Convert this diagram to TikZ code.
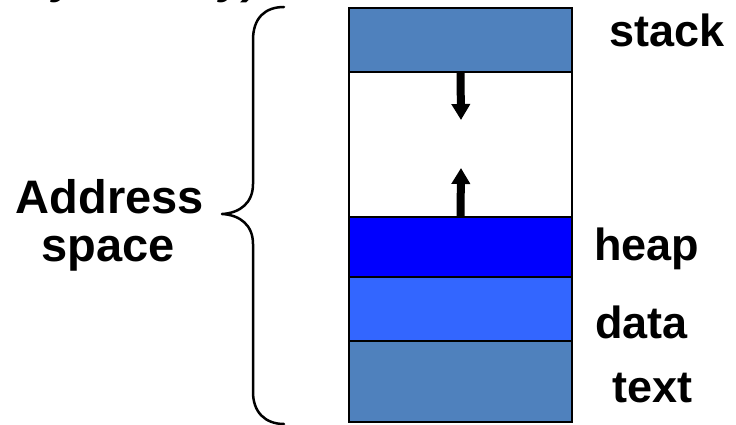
\documentclass[tikz,border=0pt]{standalone}
\usepackage{fontspec}
\setmainfont{Liberation Sans}
\usetikzlibrary{arrows.meta}

\definecolor{segblue}{HTML}{4F81BD}
\definecolor{heapblue}{HTML}{0000FF}
\definecolor{datablue}{HTML}{3366FF}

\begin{document}
\begin{tikzpicture}[x=1pt,y=-1pt,
  seg/.style={draw=black, line width=2.5pt, minimum width=223pt, inner sep=0pt, outer sep=0pt},
  lbl/.style={font=\fontsize{45}{54}\selectfont\bfseries, inner sep=0pt, anchor=base west},
  biglbl/.style={font=\fontsize{47}{56}\selectfont\bfseries, inner sep=0pt, anchor=base},
  headlbl/.style={font=\fontsize{45}{54}\selectfont\bfseries\itshape, inner sep=0pt, anchor=base west},
  growarrow/.style={line width=8pt, -{Triangle[width=18pt,length=16pt]}},
  brace/.style={line width=2.5pt, line cap=round, line join=round}]
  \useasboundingbox (0,0) rectangle (736,425);

  % descenders of the heading line above the frame
  \begin{scope}
    \clip (0,0) rectangle (736,425);
    \node[headlbl] (headA) at (52,-6) {y};
    \node[headlbl] (headB) at (219,-6) {y)};
  \end{scope}

  % memory segments, top to bottom
  \node[seg, fill=segblue, minimum height=64pt] (stack) at (460.5,40) {};
  \node[seg, fill=white, minimum height=145pt] (gap) at (460.5,144.5) {};
  \node[seg, fill=heapblue, minimum height=60pt] (heap) at (460.5,247) {};
  \node[seg, fill=datablue, minimum height=64pt] (data) at (460.5,309) {};
  \node[seg, fill=segblue, minimum height=81pt] (text) at (460.5,381.5) {};

  % growth directions of stack and heap
  \coordinate (stackTip) at (461,120);
  \coordinate (heapTip) at (461,168);
  \draw[growarrow] (stack.south) -- (stackTip);
  \draw[growarrow] (heap.north) -- (heapTip);

  % segment labels
  \node[lbl] (lstack) at (609,47) {stack};
  \node[lbl] (lheap) at (594,260) {heap};
  \node[lbl] (ldata) at (595,338) {data};
  \node[lbl] (ltext) at (612,402) {text};

  % the whole range is the address space
  \node[biglbl] (addr1) at (110,213) {Address};
  \node[biglbl] (addr2) at (108,261) {space};

  \coordinate (bTop) at (284,7);
  \coordinate (bMid) at (222,214);
  \coordinate (bBot) at (284,424);
  \draw[brace] (bTop) .. controls (265,7) and (253,18) .. (253,40)
    -- (253,184) .. controls (253,203) and (240,213) .. (bMid)
    .. controls (240,215) and (253,225) .. (253,244)
    -- (253,392) .. controls (253,412) and (265,424) .. (bBot);
\end{tikzpicture}
\end{document}
